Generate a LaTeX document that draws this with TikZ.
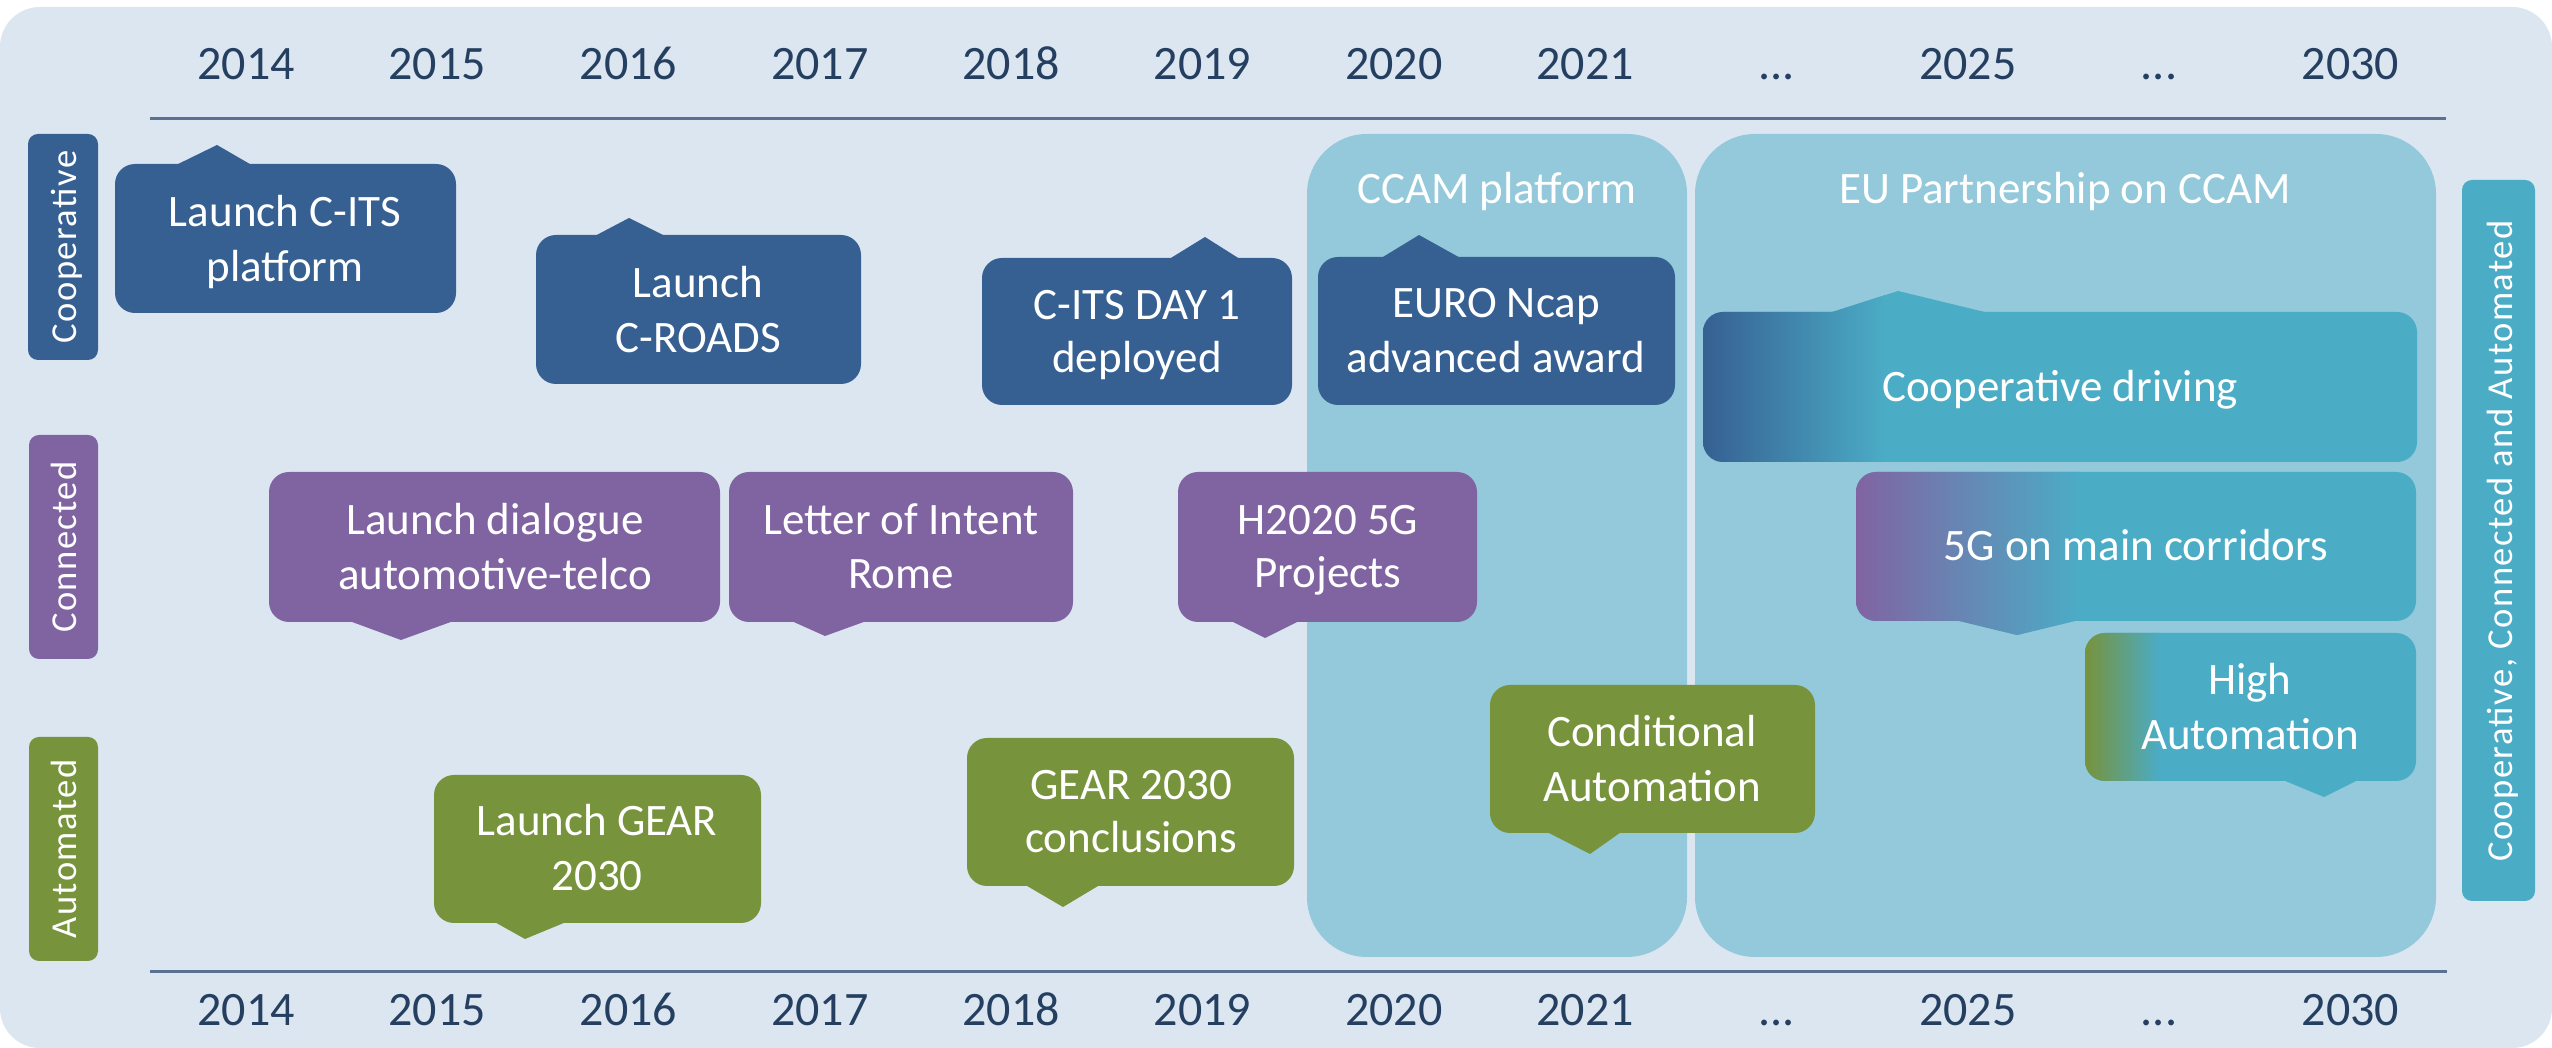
\documentclass[tikz,border=0pt]{standalone}
\usepackage{fontspec}
\newfontfamily\carl{Carlito}
\newfontfamily\carlsp[LetterSpace=4]{Carlito}
\newcommand\boxfont{\carl\fontsize{12.8}{15}\selectfont}
\newcommand\yearfont{\carl\fontsize{13.66}{16}\selectfont}
\newcommand\lblfont{\carlsp\fontsize{10.4}{12}\selectfont}
\definecolor{bgc}{HTML}{DCE6F1}
\definecolor{cblue}{HTML}{366092}
\definecolor{cpurp}{HTML}{8064A2}
\definecolor{cgreen}{HTML}{77933C}
\definecolor{cteal}{HTML}{4BACC6}
\definecolor{cpanel}{HTML}{93C9DB}
\definecolor{cyear}{HTML}{243F60}
\definecolor{cline}{HTML}{5B7191}
\tikzset{
  bt/.style={anchor=base, text=white, font=\boxfont, inner sep=0pt},
  yr/.style={anchor=base, text=cyear, font=\yearfont, inner sep=0pt},
  rowlbl/.style={anchor=base, rotate=90, text=white, font=\lblfont, inner sep=0pt},
  panel/.style={fill=cpanel, rounded corners=6mm},
  lblbox/.style={rounded corners=1mm},
  axisline/.style={draw=cline, line width=0.3mm},
}
% callout with pointer on top: color, x1, y1, x2, y2, base left, base right, apex x, apex y
\newcommand\calloutT[9]{%
  \fill[#1, rounded corners=2mm] (#2,#3) rectangle (#4,#5);
  \fill[#1] (#6,#3+3) -- (#8,#9) -- (#7,#3+3) -- cycle;}
% callout with pointer at bottom
\newcommand\calloutB[9]{%
  \fill[#1, rounded corners=2mm] (#2,#3) rectangle (#4,#5);
  \fill[#1] (#6,#5-3) -- (#8,#9) -- (#7,#5-3) -- cycle;}
\newcommand\yearpair[3]{%
  \node[yr] (yt#1) at (#2,80) {#3};
  \node[yr] (yb#1) at (#2,1026) {#3};}
\begin{document}
\begin{tikzpicture}[x=0.1mm, y=-0.1mm]
\useasboundingbox (0,0) rectangle (2552,1048);
\fill[white] (0,0) rectangle (2552,1048);
\fill[bgc, rounded corners=4mm] (0,7) rectangle (2552,1048);

% axis lines
\coordinate (tl) at (150,119); \coordinate (tr) at (2446,119);
\coordinate (bl) at (150,972); \coordinate (br) at (2447,972);
\draw[axisline] (tl) -- (tr);
\draw[axisline] (bl) -- (br);

% years
\yearpair{a}{246}{2014}
\yearpair{b}{437.3}{2015}
\yearpair{c}{628.6}{2016}
\yearpair{d}{819.9}{2017}
\yearpair{e}{1011.2}{2018}
\yearpair{f}{1202.5}{2019}
\yearpair{g}{1393.8}{2020}
\yearpair{h}{1585.1}{2021}
\yearpair{i}{1776.4}{...}
\yearpair{j}{1967.7}{2025}
\yearpair{k}{2159}{...}
\yearpair{l}{2350.3}{2030}

% panels
\fill[panel] (1307,134) rectangle (1687,957);
\fill[panel] (1695,134) rectangle (2436,957);
\node[bt] (ccam) at (1497,204) {CCAM platform};
\node[bt] (eup) at (2065,204) {EU Partnership on CCAM};

% row labels
\fill[cblue, lblbox] (28,134) rectangle (98,360);
\fill[cpurp, lblbox] (29,435) rectangle (98,659);
\fill[cgreen, lblbox] (29,737) rectangle (98,961);
\fill[cteal, lblbox] (2462,180) rectangle (2535,901);
\node[rowlbl] (lcoop) at (77,247) {Cooperative};
\node[rowlbl] (lconn) at (77,547) {Connected};
\node[rowlbl] (lauto) at (77,849) {Automated};
\node[rowlbl] (lall) at (2512,541) {Cooperative, Connected and Automated};

% cooperative row
\calloutT{cblue}{115}{164}{456}{313}{172}{255}{217}{145}
\node[bt] (a1) at (285,227) {Launch C-ITS};
\node[bt] (a2) at (285,282) {platform};
\calloutT{cblue}{536}{235}{861}{384}{591}{669}{629}{218}
\node[bt] (b1) at (698,298) {Launch};
\node[bt] (b2) at (698,353) {C-ROADS};
\calloutT{cblue}{982}{258}{1292}{405}{1166}{1243}{1205}{237}
\node[bt] (c1) at (1137,320) {C-ITS DAY 1};
\node[bt] (c2) at (1137,373) {deployed};
\calloutT{cblue}{1318}{257}{1675}{405}{1378}{1464}{1419}{235}
\node[bt] (d1) at (1496,318) {EURO Ncap};
\node[bt] (d2) at (1496,373) {advanced award};

% connected row
\calloutB{cpurp}{269}{472}{720}{622}{344}{459}{401}{640}
\node[bt] (e1) at (495,535) {Launch dialogue};
\node[bt] (e2) at (495,590) {automotive-telco};
\calloutB{cpurp}{729}{472}{1073}{622}{787}{872}{825}{636}
\node[bt] (f1) at (901,535) {Letter of Intent};
\node[bt] (f2) at (901,589) {Rome};
\calloutB{cpurp}{1178}{472}{1477}{622}{1227}{1303}{1265}{638}
\node[bt] (g1) at (1328,535) {H2020 5G};
\node[bt] (g2) at (1328,588) {Projects};

% automated row
\calloutB{cgreen}{434}{775}{761}{923}{491}{571}{525}{939}
\node[bt] (h1) at (597,836) {Launch GEAR};
\node[bt] (h2) at (597,891) {2030};
\calloutB{cgreen}{967}{738}{1294}{886}{1022}{1103}{1063}{907}
\node[bt] (i1) at (1131,800) {GEAR 2030};
\node[bt] (i2) at (1131,853) {conclusions};
\calloutB{cgreen}{1490}{685}{1815}{833}{1543}{1624}{1590}{854}
\node[bt] (j1) at (1652,747) {Conditional};
\node[bt] (j2) at (1652,802) {Automation};

% gradient boxes
% Cooperative driving
\fill[cteal, rounded corners=2mm] (1703,312) rectangle (2417,462);
\fill[cteal] (1823,315) -- (1898,291) -- (1997,315) -- cycle;
\begin{scope}
  \clip[rounded corners=2mm] (1703,312) rectangle (2417,462);
  \shade[left color=cblue, right color=cteal] (1703,290) rectangle (1885,462);
\end{scope}
\begin{scope}
  \clip (1823,315) -- (1898,291) -- (1997,315) -- cycle;
  \shade[left color=cblue, right color=cteal] (1703,290) rectangle (1885,462);
\end{scope}
\node[bt] (k1) at (2060,402) {Cooperative driving};

% 5G on main corridors
\fill[cteal, rounded corners=2mm] (1856,472) rectangle (2416,621);
\fill[cteal] (1947,618) -- (2017,635) -- (2087,618) -- cycle;
\begin{scope}
  \clip[rounded corners=2mm] (1856,472) rectangle (2416,621);
  \shade[left color=cpurp, right color=cteal] (1856,472) rectangle (2080,640);
\end{scope}
\begin{scope}
  \clip (1947,618) -- (2017,635) -- (2087,618) -- cycle;
  \shade[left color=cpurp, right color=cteal] (1856,472) rectangle (2080,640);
\end{scope}
\node[bt] (l1) at (2136,561) {5G on main corridors};

% High Automation
\fill[cteal, rounded corners=2mm] (2085,633) rectangle (2416,781);
\fill[cteal] (2278,778) -- (2324,797) -- (2362,778) -- cycle;
\begin{scope}
  \clip[rounded corners=2mm] (2085,633) rectangle (2416,781);
  \shade[left color=cgreen, right color=cteal] (2085,633) rectangle (2160,781);
\end{scope}
\node[bt] (m1) at (2250,695) {High};
\node[bt] (m2) at (2250,750) {Automation};
\end{tikzpicture}
\end{document}
